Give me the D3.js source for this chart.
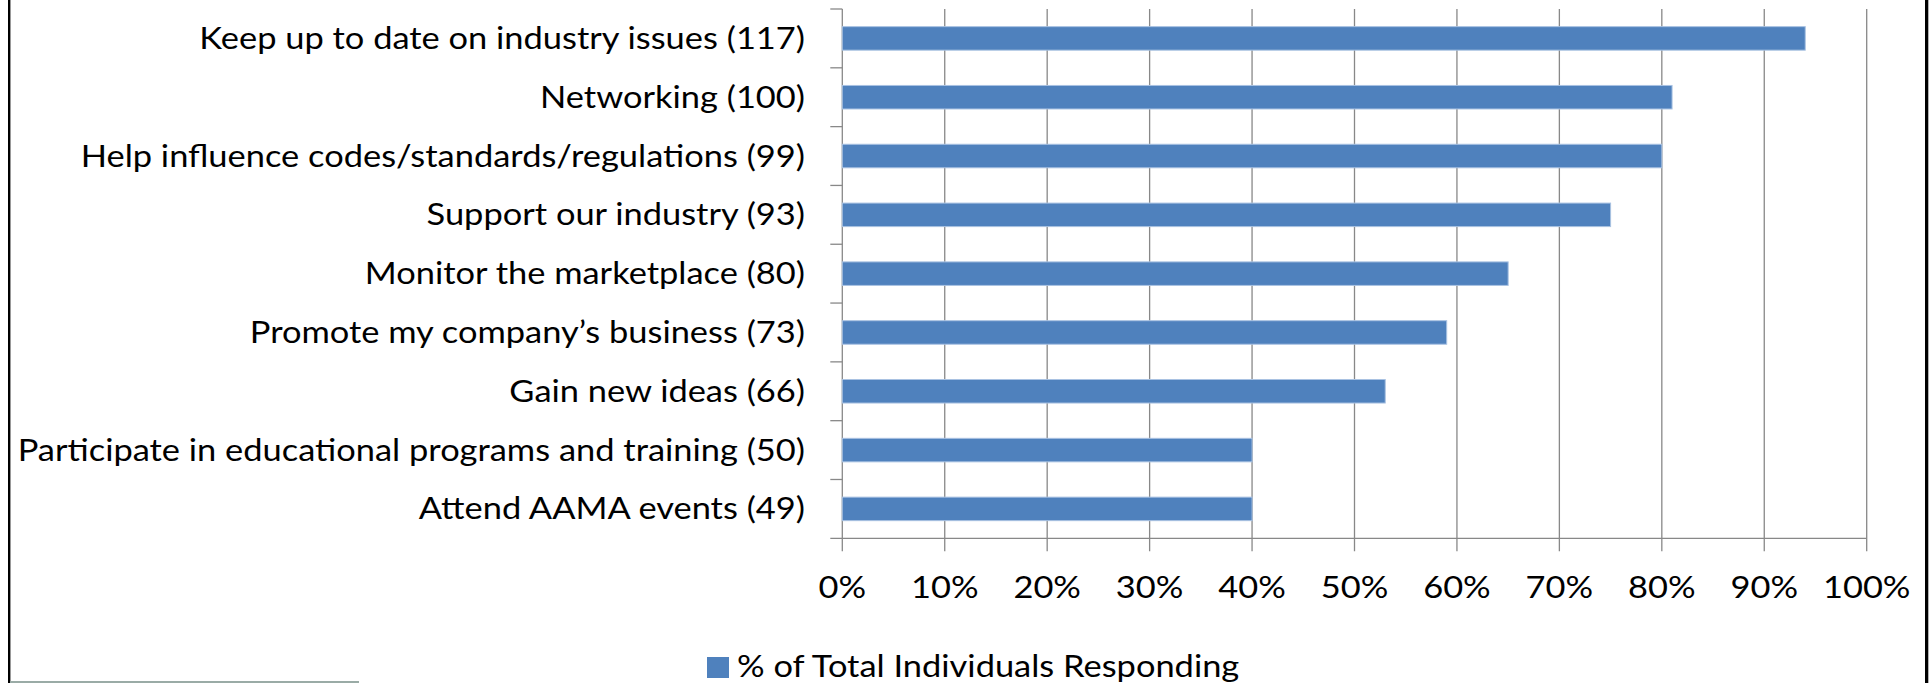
<!DOCTYPE html>
<html>
<head>
<meta charset="utf-8">
<script src="https://cdn.jsdelivr.net/npm/d3@7"></script>
<style>
  html, body { margin: 0; padding: 0; background: #ffffff; }
  svg { display: block; }
  text { font-family: Lato, "Open Sans", sans-serif; fill: #000; }
</style>
</head>
<body>
<svg id="chart" width="1931" height="683"></svg>
<script>
// ---- data ----
const categories = [
  "Keep up to date on industry issues (117)",
  "Networking (100)",
  "Help influence codes/standards/regulations (99)",
  "Support our industry (93)",
  "Monitor the marketplace (80)",
  "Promote my company\u2019s business (73)",
  "Gain new ideas (66)",
  "Participate in educational programs and training (50)",
  "Attend AAMA events (49)"
];
const values = [0.94, 0.81, 0.80, 0.75, 0.65, 0.59, 0.53, 0.40, 0.40];
const tickValues = [0, 0.1, 0.2, 0.3, 0.4, 0.5, 0.6, 0.7, 0.8, 0.9, 1.0];
const tickLabels = ["0%", "10%", "20%", "30%", "40%", "50%", "60%", "70%", "80%", "90%", "100%"];
const seriesName = "% of Total Individuals Responding";

// ---- layout ----
const W = 1931, H = 683;
const plot = { left: 842.3, right: 1866.7, top: 9, bottom: 538.3 };
const barColor = "#4F81BD";
const gridColor = "#888888";
const fontSize = 30;

const svg = d3.select("#chart");

const x = d3.scaleLinear().domain([0, 1]).range([plot.left, plot.right]);
const y = d3.scaleBand().domain(categories).range([plot.top, plot.bottom]).padding(0);
const step = y.step();

// frame pieces
svg.append("rect").attr("x", 8).attr("y", 0).attr("width", 2.4).attr("height", H).attr("fill", "#000");
svg.append("rect").attr("x", 1925).attr("y", 0).attr("width", 3.3).attr("height", H).attr("fill", "#000");
svg.append("rect").attr("x", 10).attr("y", 681).attr("width", 349).attr("height", 2).attr("fill", "#9aaba6");

// gridlines + x ticks
const grid = svg.append("g");
grid.selectAll("line")
  .data(tickValues)
  .join("line")
  .attr("x1", d => x(d)).attr("x2", d => x(d))
  .attr("y1", plot.top).attr("y2", plot.bottom + 13)
  .attr("stroke", gridColor)
  .attr("stroke-width", 1.3);

// horizontal axis line
svg.append("line")
  .attr("x1", plot.left - 12).attr("x2", x(1))
  .attr("y1", plot.bottom).attr("y2", plot.bottom)
  .attr("stroke", gridColor).attr("stroke-width", 1.3);

// y ticks at category boundaries
svg.append("g").selectAll("line")
  .data(categories)
  .join("line")
  .attr("x1", plot.left - 12).attr("x2", plot.left)
  .attr("y1", d => y(d)).attr("y2", d => y(d))
  .attr("stroke", gridColor).attr("stroke-width", 1.3);

// bars
svg.append("g").selectAll("rect")
  .data(categories)
  .join("rect")
  .attr("x", x(0))
  .attr("y", d => y(d) + step * 0.3)
  .attr("width", (d, i) => x(values[i]) - x(0))
  .attr("height", step * 0.4)
  .attr("fill", barColor)
  .attr("stroke", "#a9c2e2")
  .attr("stroke-width", 1);

// text horizontal scale (reference text is horizontally stretched)
const probe = svg.append("text").attr("font-size", fontSize).text(categories[0]);
const measured = probe.node().getComputedTextLength();
probe.remove();
const sx = 606 / measured;

// category labels
svg.append("g").selectAll("g")
  .data(categories)
  .join("g")
  .attr("transform", d => `translate(805,${y(d) + step / 2 + 10.5}) scale(${sx},1)`)
  .append("text")
  .attr("text-anchor", "end")
  .attr("font-size", fontSize)
  .text(d => d);

// x tick labels
svg.append("g").selectAll("g")
  .data(tickValues)
  .join("g")
  .attr("transform", d => `translate(${x(d)},598) scale(${sx},1)`)
  .append("text")
  .attr("text-anchor", "middle")
  .attr("font-size", fontSize)
  .text((d, i) => tickLabels[i]);

// legend
svg.append("rect").attr("x", 707).attr("y", 657).attr("width", 22).attr("height", 21).attr("fill", barColor);
svg.append("g")
  .attr("transform", `translate(737,677) scale(${sx},1)`)
  .append("text")
  .attr("font-size", fontSize)
  .text(seriesName);
</script>
</body>
</html>
